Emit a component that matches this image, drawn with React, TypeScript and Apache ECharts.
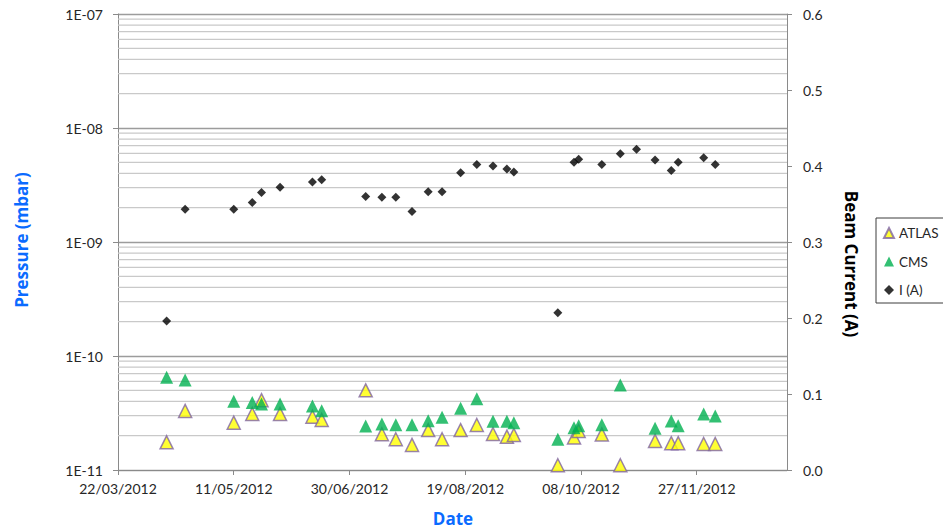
import React, { useEffect, useRef } from "react";
import * as echarts from "echarts";

// Date axis: first tick date, visible span and tick step (days)
const AXIS_START = "22/03/2012";
const AXIS_SPAN_DAYS = 289;
const DATE_STEP_DAYS = 50;

// Measurement dates
const dates = [
  "12/04/2012", "20/04/2012", "11/05/2012", "19/05/2012", "23/05/2012",
  "31/05/2012", "14/06/2012", "18/06/2012", "07/07/2012", "14/07/2012",
  "20/07/2012", "27/07/2012", "03/08/2012", "09/08/2012", "17/08/2012",
  "24/08/2012", "31/08/2012", "06/09/2012", "09/09/2012", "28/09/2012",
  "05/10/2012", "07/10/2012", "17/10/2012", "25/10/2012", "01/11/2012",
  "09/11/2012", "16/11/2012", "19/11/2012", "30/11/2012", "05/12/2012",
];

// Pressure (mbar)
const atlas: (number | null)[] = [
  1.75e-11, 3.3e-11, 2.6e-11, 3.1e-11, 4.1e-11,
  3.1e-11, 2.93e-11, 2.75e-11, 5.0e-11, 2.06e-11,
  1.86e-11, 1.66e-11, 2.24e-11, 1.86e-11, 2.24e-11,
  2.48e-11, 2.07e-11, 1.96e-11, 2.03e-11, 1.1e-11,
  1.93e-11, 2.2e-11, 2.05e-11, 1.1e-11, null,
  1.8e-11, 1.72e-11, 1.72e-11, 1.69e-11, 1.69e-11,
];

const cms: (number | null)[] = [
  6.5e-11, 6.15e-11, 4.0e-11, 3.9e-11, 3.8e-11,
  3.8e-11, 3.64e-11, 3.31e-11, 2.43e-11, 2.53e-11,
  2.5e-11, 2.5e-11, 2.71e-11, 2.9e-11, 3.48e-11,
  4.22e-11, 2.68e-11, 2.68e-11, 2.6e-11, 1.86e-11,
  2.35e-11, 2.44e-11, 2.5e-11, 5.57e-11, null,
  2.32e-11, 2.69e-11, 2.45e-11, 3.1e-11, 2.98e-11,
];

// Beam current (A)
const beamCurrent: (number | null)[] = [
  0.196, 0.343, 0.343, 0.352, 0.365,
  0.372, 0.379, 0.382, 0.360, 0.359,
  0.359, 0.340, 0.366, 0.366, 0.391,
  0.402, 0.400, 0.396, 0.392, 0.207,
  0.405, 0.409, 0.402, 0.416, 0.422,
  0.408, 0.394, 0.405, 0.411, 0.402,
];

// Pressure axis range and minor grid multipliers per decade
const PRESSURE_MIN = 1e-11;
const PRESSURE_MAX = 1e-7;
const gridDecades = [-11, -10, -9, -8];
const gridMultipliers = [2, 3, 4, 5, 6, 7, 8, 9];

// Beam current axis
const CURRENT_MIN = 0;
const CURRENT_MAX = 0.6;
const CURRENT_STEP = 0.1;

const DAY_MS = 86400000;
const parseDMY = (s: string) => {
  const [d, m, y] = s.split("/").map(Number);
  return Date.UTC(y, m - 1, d);
};
const startMs = parseDMY(AXIS_START);
const toDay = (s: string) => Math.round((parseDMY(s) - startMs) / DAY_MS);
const pad2 = (n: number) => (n < 10 ? "0" + n : String(n));
const formatDay = (v: number) => {
  const dt = new Date(startMs + Math.round(v) * DAY_MS);
  return `${pad2(dt.getUTCDate())}/${pad2(dt.getUTCMonth() + 1)}/${dt.getUTCFullYear()}`;
};
const formatExp = (v: number) => {
  const e = Math.round(Math.log10(v));
  return `1E${e < 0 ? "-" : "+"}${pad2(Math.abs(e))}`;
};

const toPoints = (vals: (number | null)[]) =>
  dates
    .map((d, i) => [toDay(d), vals[i]] as [number, number | null])
    .filter((p) => p[1] != null);

const FONT = "Lato, 'Open Sans', sans-serif";
const TITLE_FONT = "'Open Sans', Lato, sans-serif";
const AXIS_GRAY = "#8a8a8a";
const LABEL_COLOR = "#262626";
const TITLE_BLUE = "#0A6BFF";

export default function App() {
  const ref = useRef<HTMLDivElement>(null);

  useEffect(() => {
    if (!ref.current) return;
    const chart = echarts.init(ref.current, undefined, { renderer: "svg" });

    // minor grid levels 2..9 x 10^n, placed through the pressure axis
    const minorGrid: [number, number][] = [];
    gridDecades.forEach((e) =>
      gridMultipliers.forEach((k) => minorGrid.push([0, k * Math.pow(10, e)]))
    );

    chart.setOption({
      animation: false,
      backgroundColor: "#ffffff",
      grid: { left: 118, right: 156, top: 14, bottom: 58, containLabel: false },
      xAxis: {
        type: "value",
        min: 0,
        max: AXIS_SPAN_DAYS,
        interval: DATE_STEP_DAYS,
        axisLine: { show: true, lineStyle: { color: AXIS_GRAY, width: 1 } },
        axisTick: { show: true, inside: false, length: 5, lineStyle: { color: AXIS_GRAY } },
        axisLabel: {
          formatter: formatDay,
          showMaxLabel: false,
          margin: 11,
          fontFamily: FONT,
          fontSize: 14,
          color: LABEL_COLOR,
        },
        splitLine: { show: false },
      },
      yAxis: [
        {
          type: "log",
          logBase: 10,
          min: PRESSURE_MIN,
          max: PRESSURE_MAX,
          position: "left",
          axisLine: { show: true, lineStyle: { color: AXIS_GRAY, width: 1 } },
          axisTick: { show: true, inside: false, length: 5, lineStyle: { color: AXIS_GRAY } },
          axisLabel: {
            formatter: formatExp,
            margin: 15,
            fontFamily: FONT,
            fontSize: 14,
            color: LABEL_COLOR,
          },
          splitLine: { show: true, lineStyle: { color: "#9c9c9c", width: 1.4 } },
        },
        {
          type: "value",
          min: CURRENT_MIN,
          max: CURRENT_MAX,
          interval: CURRENT_STEP,
          position: "right",
          axisLine: { show: true, lineStyle: { color: AXIS_GRAY, width: 1 } },
          axisTick: { show: true, inside: false, length: 5, lineStyle: { color: AXIS_GRAY } },
          axisLabel: {
            formatter: (v: number) => v.toFixed(1),
            margin: 16,
            fontFamily: FONT,
            fontSize: 14,
            color: LABEL_COLOR,
          },
          splitLine: { show: false },
        },
      ],
      legend: {
        data: [
          { name: "ATLAS", icon: "triangle" },
          { name: "CMS", icon: "triangle" },
          { name: "I (A)", icon: "diamond" },
        ],
        orient: "vertical",
        left: 876,
        top: 218,
        padding: [7, 6, 5, 7],
        itemGap: 12.5,
        itemWidth: 10,
        itemHeight: 10,
        borderColor: "#3c3c3c",
        borderWidth: 1,
        backgroundColor: "#ffffff",
        selectedMode: false,
        textStyle: { fontFamily: FONT, fontSize: 13.5, color: LABEL_COLOR, lineHeight: 16 },
      },
      graphic: [
        {
          type: "text",
          x: 21,
          y: 240,
          rotation: Math.PI / 2,
          style: {
            text: "Pressure (mbar)",
            fontFamily: TITLE_FONT,
            fontSize: 17,
            fontWeight: "bold",
            fill: TITLE_BLUE,
            align: "center",
            verticalAlign: "middle",
            textAlign: "center",
            textVerticalAlign: "middle",
          },
        },
        {
          type: "text",
          x: 851,
          y: 264,
          rotation: -Math.PI / 2,
          style: {
            text: "Beam Current (A)",
            fontFamily: TITLE_FONT,
            fontSize: 17,
            fontWeight: "bold",
            fill: "#000000",
            align: "center",
            verticalAlign: "middle",
            textAlign: "center",
            textVerticalAlign: "middle",
          },
        },
        {
          type: "text",
          x: 453,
          y: 518,
          style: {
            text: "Date",
            fontFamily: TITLE_FONT,
            fontSize: 17,
            fontWeight: "bold",
            fill: TITLE_BLUE,
            align: "center",
            verticalAlign: "middle",
            textAlign: "center",
            textVerticalAlign: "middle",
          },
        },
      ],
      series: [
        {
          // minor horizontal grid lines across the plot area
          type: "custom",
          name: "minor-grid",
          yAxisIndex: 0,
          silent: true,
          z: 1,
          clip: true,
          data: minorGrid,
          renderItem: (params: any, api: any) => {
            const cs = params.coordSys;
            const y = api.coord([api.value(0), api.value(1)])[1];
            return {
              type: "line",
              shape: { x1: cs.x, y1: y, x2: cs.x + cs.width, y2: y },
              style: { stroke: "#c9c9c9", lineWidth: 1.2 },
            };
          },
        },
        {
          name: "ATLAS",
          type: "scatter",
          yAxisIndex: 0,
          symbol: "triangle",
          symbolSize: 13,
          z: 3,
          itemStyle: { color: "#FFFF00", borderColor: "#8064A2", borderWidth: 1.5 },
          data: toPoints(atlas),
        },
        {
          name: "CMS",
          type: "scatter",
          yAxisIndex: 0,
          symbol: "triangle",
          symbolSize: 13,
          z: 3,
          itemStyle: { color: "#00B050" },
          data: toPoints(cms),
        },
        {
          name: "I (A)",
          type: "scatter",
          yAxisIndex: 1,
          symbol: "diamond",
          symbolSize: 9,
          z: 3,
          itemStyle: { color: "#000000" },
          data: toPoints(beamCurrent),
        },
      ],
    });

    return () => chart.dispose();
  }, []);

  return (
    <div
      ref={ref}
      style={{ position: "fixed", left: 0, top: 0, width: 943, height: 528, background: "#fff" }}
    />
  );
}
